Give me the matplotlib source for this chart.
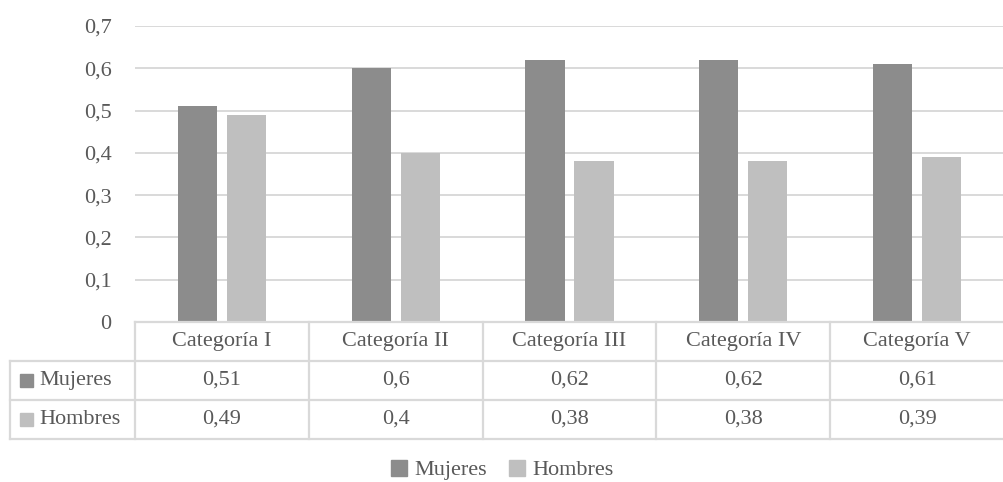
import matplotlib.pyplot as plt
from matplotlib.patches import Rectangle

plt.rcParams['font.family'] = ['Liberation Serif', 'DejaVu Serif']

categories = ['Categoría I', 'Categoría II', 'Categoría III', 'Categoría IV', 'Categoría V']
mujeres = [0.51, 0.60, 0.62, 0.62, 0.61]
hombres = [0.49, 0.40, 0.38, 0.38, 0.39]
series = ['Mujeres', 'Hombres']
values = [mujeres, hombres]
colors = ['#8c8c8c', '#bfbfbf']

W, H = 1004, 482
fig = plt.figure(figsize=(W / 100, H / 100), dpi=100)
txt = '#595959'
grid = '#d9d9d9'
fs = 16

# bar chart area
ax = fig.add_axes([135 / W, 1 - 322 / H, (1004 - 135) / W, (322 - 26) / H])
x = list(range(len(categories)))
bw = 0.225
off = 0.141
ax.bar([i - off for i in x], mujeres, bw, color=colors[0], zorder=3)
ax.bar([i + off for i in x], hombres, bw, color=colors[1], zorder=3)
ax.set_xlim(-0.5, len(categories) - 0.5)
ax.set_ylim(0, 0.7)
yt = [i / 10 for i in range(8)]
ax.set_yticks(yt)
ax.set_yticklabels(['0' if v == 0 else f'{v:.1f}'.replace('.', ',') for v in yt],
                   fontsize=fs, color=txt)
ax.tick_params(axis='y', length=0, pad=17)
ax.set_xticks([])
ax.grid(axis='y', color=grid, linewidth=1.4, zorder=0)
for s in ax.spines.values():
    s.set_visible(False)

# data table under the chart
lw = 125 / ((1004 - 135) / 5)
tab = fig.add_axes([10 / W, 1 - 439 / H, (1004 - 10) / W, (439 - 322) / H])
tab.set_xlim(-0.5 - lw, len(categories) - 0.5)
tab.set_ylim(3, 0)
tab.axis('off')
lk = dict(color=grid, linewidth=1.6, clip_on=False)
tab.plot([-0.5, len(categories) - 0.5], [0, 0], **lk)
for r in (1, 2, 3):
    tab.plot([-0.5 - lw, len(categories) - 0.5], [r, r], **lk)
tab.plot([-0.5 - lw, -0.5 - lw], [1, 3], **lk)
for c in range(len(categories)):
    tab.plot([c - 0.5, c - 0.5], [0, 3], **lk)
for c, name in enumerate(categories):
    tab.text(c, 0.5, name, ha='center', va='center', fontsize=fs, color=txt)
for r, (name, vals, col) in enumerate(zip(series, values, colors)):
    yy = r + 1.5
    tab.add_patch(Rectangle((-0.5 - lw + 0.058, yy - 0.17), 0.075, 0.34,
                            color=col, clip_on=False))
    tab.text(-0.5 - lw + 0.17, yy, name, ha='left', va='center', fontsize=fs, color=txt)
    for c, v in enumerate(vals):
        s = f'{v:g}'.replace('.', ',')
        tab.text(c, yy, s, ha='center', va='center', fontsize=fs, color=txt)

# legend
handles = [Rectangle((0, 0), 1, 1, color=c) for c in colors]
fig.legend(handles, series, loc='center', bbox_to_anchor=(0.5, 1 - 470 / H),
           ncol=2, frameon=False, fontsize=fs, labelcolor=txt,
           handlelength=0.75, handleheight=0.75, handletextpad=0.3, columnspacing=1.0)

fig.savefig('out.png', dpi=100, facecolor='white')
